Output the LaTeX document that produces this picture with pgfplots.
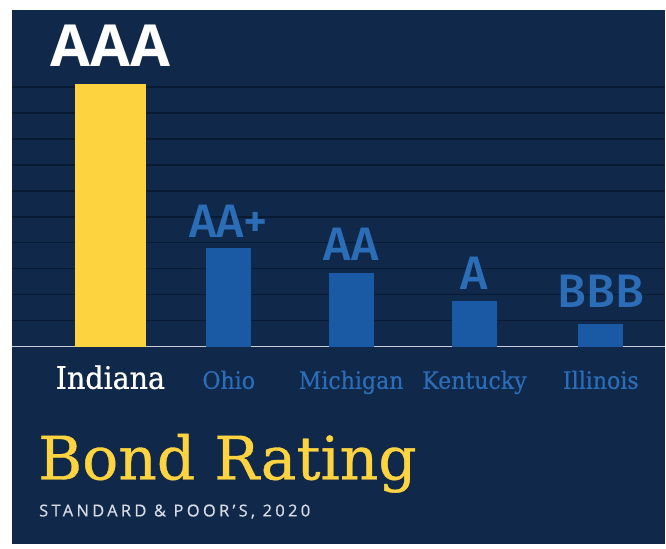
\documentclass[border=0pt]{standalone}
\usepackage{pgfplots}
\pgfplotsset{compat=1.18}
\usepackage{fontspec}
\setmainfont[FakeBold=0.6]{DejaVu Serif}
\newfontfamily\labfont[FakeStretch=0.92, FakeBold=0.5]{DejaVu Serif}
\newfontfamily\ratfont{Open Sans}
\newfontfamily\ratsemi{Fira Sans Medium}
\newfontfamily\subfont[LetterSpace=20, FakeBold=0.6]{Open Sans}
\definecolor{navy}{HTML}{10284A}
\definecolor{gridcol}{HTML}{091A33}
\definecolor{basecol}{HTML}{C9CDD5}
\definecolor{yel}{HTML}{FDD340}
\definecolor{barblue}{HTML}{1A5AA5}
\definecolor{txtblue}{HTML}{2C6DB8}
\definecolor{subcol}{HTML}{D8DCE4}
\begin{document}
\begin{tikzpicture}
\fill[white] (0,0) rectangle (666bp,545bp);
\begin{axis}[
  at={(12bp,0bp)}, anchor=south west,
  x=1bp, y=1bp, scale only axis,
  xmin=12, xmax=666, ymin=-198, ymax=337,
  clip=false,
  axis background/.style={fill=navy},
  axis line style={draw=none},
  tick style={draw=none},
  ytick={26,52,78,104,130,156,182,208,234,260},
  yticklabels={},
  ymajorgrids,
  grid style={gridcol, line width=1.5bp},
  xtick={110.5,229,351.5,475,601.5},
  xticklabels={
    {\textcolor{white}{\fontsize{31bp}{31bp}\selectfont Indiana}},
    {\textcolor{txtblue}{Ohio}},
    {\textcolor{txtblue}{Michigan}},
    {\textcolor{txtblue}{Kentucky}},
    {\textcolor{txtblue}{Illinois}}},
  xticklabel style={anchor=base, yshift=160bp, inner sep=0pt, font=\labfont\fontsize{24bp}{24bp}\selectfont},
  ybar, bar shift=0pt,
  point meta=explicit symbolic,
  nodes near coords,
  every node near coord/.append style={anchor=base, inner sep=0pt},
]
\draw[basecol, line width=1.5bp] (axis cs:12,0) -- (axis cs:666,0);
\addplot[fill=yel, draw=none, bar width=71bp,
  every node near coord/.append style={text=white, yshift=17bp, font=\ratfont\bfseries\fontsize{58bp}{60bp}\selectfont}]
  coordinates {(110.5,263) [AAA]};
\addplot[fill=barblue, draw=none, bar width=45bp,
  every node near coord/.append style={text=txtblue, yshift=10bp, font=\ratsemi\fontsize{47bp}{48bp}\selectfont}]
  coordinates {(229,99) [AA+]};
\addplot[fill=barblue, draw=none, bar width=45bp,
  every node near coord/.append style={text=txtblue, yshift=12bp, font=\ratsemi\fontsize{47bp}{48bp}\selectfont}]
  coordinates {(351.5,74) [AA]};
\addplot[fill=barblue, draw=none, bar width=45bp,
  every node near coord/.append style={text=txtblue, yshift=11bp, font=\ratsemi\fontsize{47bp}{48bp}\selectfont}]
  coordinates {(475,46) [A]};
\addplot[fill=barblue, draw=none, bar width=45bp,
  every node near coord/.append style={text=txtblue, yshift=16bp, font=\ratsemi\fontsize{47bp}{48bp}\selectfont}]
  coordinates {(601.5,23) [BBB]};
\node[anchor=base west, inner sep=0pt, text=yel, font=\fontsize{60bp}{60bp}\selectfont] at (axis cs:38,-133) {Bond Rating};
\node[anchor=base west, inner sep=0pt, text=subcol, font=\subfont\fontsize{16.5bp}{17bp}\selectfont] at (axis cs:39,-170) {STANDARD \& POOR’S, 2020};
\end{axis}
\end{tikzpicture}
\end{document}
